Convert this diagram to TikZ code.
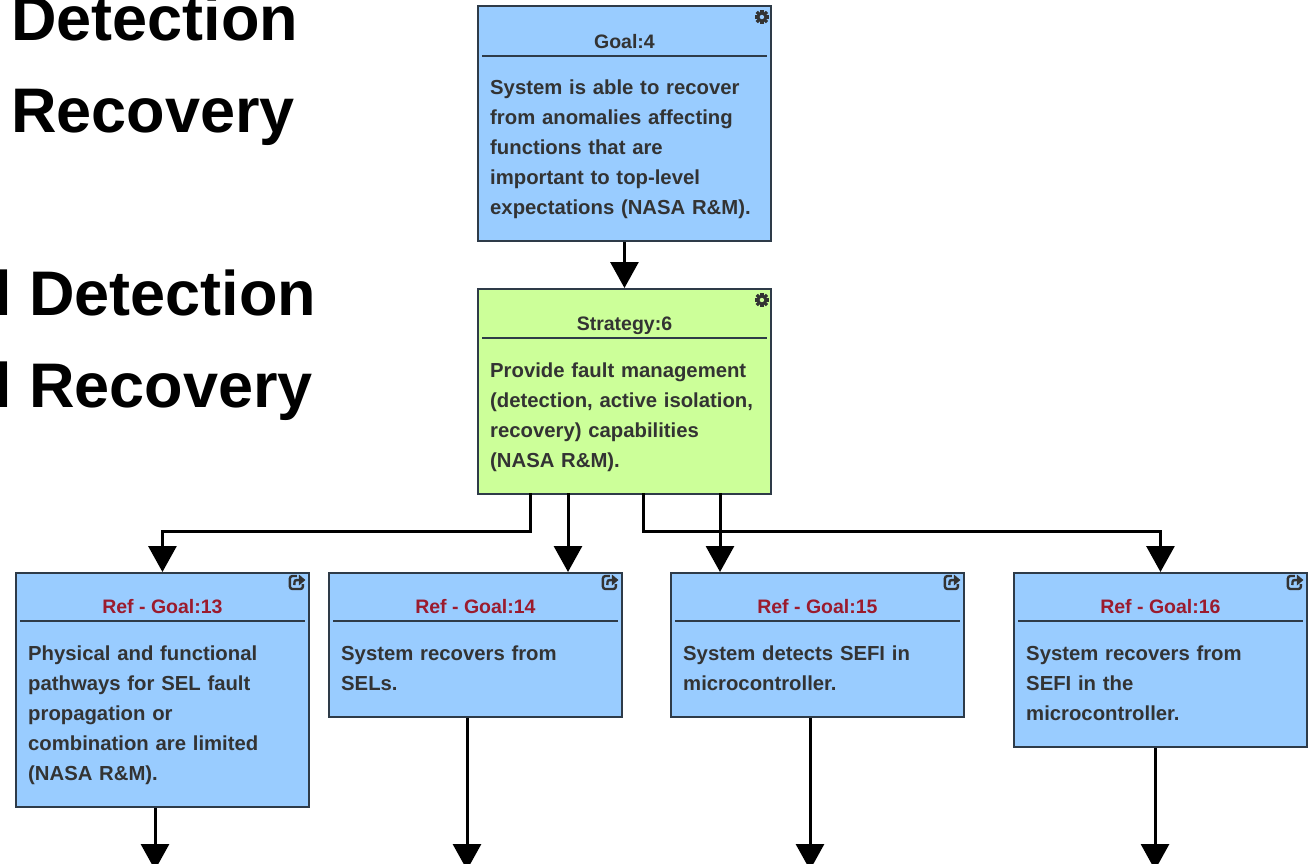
\documentclass[tikz,border=0pt]{standalone}
\usepackage{fontspec}
\setmainfont{Liberation Sans}
\usetikzlibrary{arrows.meta,calc}
\definecolor{gblue}{HTML}{99CCFF}
\definecolor{sgreen}{HTML}{CCFF99}
\definecolor{bordc}{HTML}{2E3B48}
\definecolor{txtc}{HTML}{333333}
\definecolor{refred}{HTML}{9B1B2E}
\tikzset{
  boxbase/.style={draw=bordc, line width=1.9pt, anchor=north west, inner sep=0pt, minimum width=293pt},
  goalbox/.style={boxbase, fill=gblue},
  stratbox/.style={boxbase, fill=sgreen},
  ttl/.style={anchor=base, inner sep=0pt, text=txtc, font=\fontsize{19.5}{24}\selectfont\bfseries},
  refttl/.style={ttl, text=refred},
  bodytxt/.style={anchor=base west, inner sep=0pt, text=txtc, text width=275pt, align=left, font=\fontsize{20.3}{30}\selectfont\bfseries},
  hline/.style={draw=bordc, line width=1.7pt},
  conn/.style={draw=black, line width=3pt, -{Triangle[width=28pt,length=26pt]}},
  bigtxt/.style={anchor=base west, inner sep=0pt, font=\fontsize{63}{70}\selectfont\bfseries},
}
\newcommand{\gearicon}[1]{%
  \foreach \a in {0,45,...,315} {\fill[txtc, rotate around={\a:(#1)}] ($(#1)+(-1.6,-7.2)$) rectangle ($(#1)+(1.6,-3)$);}
  \fill[txtc] (#1) circle (5.2pt);
  \fill[gblue!0!white, opacity=0] (#1) circle (2pt);
}
\newcommand{\extlink}[1]{%
  \draw[txtc, line width=2.4pt, rounded corners=2.5pt] ($(#1)+(0,-6)$) -- ($(#1)+(-7,-6)$) -- ($(#1)+(-7,7)$) -- ($(#1)+(6,7)$) -- ($(#1)+(6,2)$);
  \draw[txtc, line width=2.4pt] ($(#1)+(-2.5,3)$) .. controls ($(#1)+(-2.5,-2)$) .. ($(#1)+(3,-2)$);
  \fill[txtc] ($(#1)+(2,-7.5)$) -- ($(#1)+(8.5,-2)$) -- ($(#1)+(2,3.5)$) -- cycle;
}
\begin{document}
\begin{tikzpicture}[x=1pt,y=-1pt]
\useasboundingbox (0,0) rectangle (1311,863);
\clip (0,0) rectangle (1311,863);
\fill[white] (0,0) rectangle (1311,863);

% big left text
\node[bigtxt] (t1) at (11,40) {Detection};
\node[bigtxt] (t2) at (11,132) {Recovery};
\node[bigtxt] (t3) at (-6,315) {l Detection};
\node[bigtxt] (t4) at (-6,407) {l Recovery};

% Goal 4
\node[goalbox, minimum height=235pt] (g4) at (477,5) {};
\node[ttl] (g4t) at ($(g4.north)+(0,43)$) {Goal:4};
\draw[hline] ($(g4.north west)+(5,51)$) -- ($(g4.north east)+(-5,51)$);
\node[bodytxt] (g4b) at ($(g4.north west)+(13,89)$) {System is able to recover\\from anomalies affecting\\functions that are\\important to top-level\\expectations (NASA R\&M).};
\coordinate (g4g) at ($(g4.north east)+(-10,12)$);
\gearicon{g4g}
\fill[gblue] (g4g) circle (2.2pt);

% Strategy 6
\node[stratbox, minimum height=205pt] (st) at (477,288) {};
\node[ttl] (stt) at ($(st.north)+(0,42)$) {Strategy:6};
\draw[hline] ($(st.north west)+(5,50)$) -- ($(st.north east)+(-5,50)$);
\node[bodytxt] (stb) at ($(st.north west)+(13,89)$) {Provide fault management\\(detection, active isolation,\\recovery) capabilities\\(NASA R\&M).};
\coordinate (stg) at ($(st.north east)+(-10,12)$);
\gearicon{stg}
\fill[sgreen] (stg) circle (2.2pt);

% Ref goals
\node[goalbox, minimum height=234pt] (g13) at (15,572) {};
\node[refttl] (g13t) at ($(g13.north)+(0,41)$) {Ref - Goal:13};
\draw[hline] ($(g13.north west)+(5,49)$) -- ($(g13.north east)+(-5,49)$);
\node[bodytxt] (g13b) at ($(g13.north west)+(13,88)$) {Physical and functional\\pathways for SEL fault\\propagation or\\combination are limited\\(NASA R\&M).};
\coordinate (i13) at ($(g13.north east)+(-13,10)$);
\extlink{i13}

\node[goalbox, minimum height=144pt] (g14) at (328,572) {};
\node[refttl] (g14t) at ($(g14.north)+(0,41)$) {Ref - Goal:14};
\draw[hline] ($(g14.north west)+(5,49)$) -- ($(g14.north east)+(-5,49)$);
\node[bodytxt] (g14b) at ($(g14.north west)+(13,88)$) {System recovers from\\SELs.};
\coordinate (i14) at ($(g14.north east)+(-13,10)$);
\extlink{i14}

\node[goalbox, minimum height=144pt] (g15) at (670,572) {};
\node[refttl] (g15t) at ($(g15.north)+(0,41)$) {Ref - Goal:15};
\draw[hline] ($(g15.north west)+(5,49)$) -- ($(g15.north east)+(-5,49)$);
\node[bodytxt] (g15b) at ($(g15.north west)+(13,88)$) {System detects SEFI in\\microcontroller.};
\coordinate (i15) at ($(g15.north east)+(-13,10)$);
\extlink{i15}

\node[goalbox, minimum height=174pt] (g16) at (1013,572) {};
\node[refttl] (g16t) at ($(g16.north)+(0,41)$) {Ref - Goal:16};
\draw[hline] ($(g16.north west)+(5,49)$) -- ($(g16.north east)+(-5,49)$);
\node[bodytxt] (g16b) at ($(g16.north west)+(13,88)$) {System recovers from\\SEFI in the\\microcontroller.};
\coordinate (i16) at ($(g16.north east)+(-13,10)$);
\extlink{i16}

% connectors
\draw[conn] (g4.south) -- (st.north);
\coordinate (s13) at (530,493);
\coordinate (s14) at (568,493);
\coordinate (s16) at (643,493);
\coordinate (s15) at (720,493);
\draw[conn] (s13) -- ++(0,38) -| (g13.north);
\draw[conn] (s14) -- (s14 |- g14.north);
\draw[conn] (s16) -- ++(0,38) -| (g16.north);
\draw[conn] (s15) -- (s15 |- g15.north);

\coordinate (b13) at (155,870);
\coordinate (b14) at (467,870);
\coordinate (b15) at (810,870);
\coordinate (b16) at (1155,870);
\draw[conn] (b13 |- g13.south) -- (b13);
\draw[conn] (b14 |- g14.south) -- (b14);
\draw[conn] (b15 |- g15.south) -- (b15);
\draw[conn] (b16 |- g16.south) -- (b16);
\end{tikzpicture}
\end{document}
